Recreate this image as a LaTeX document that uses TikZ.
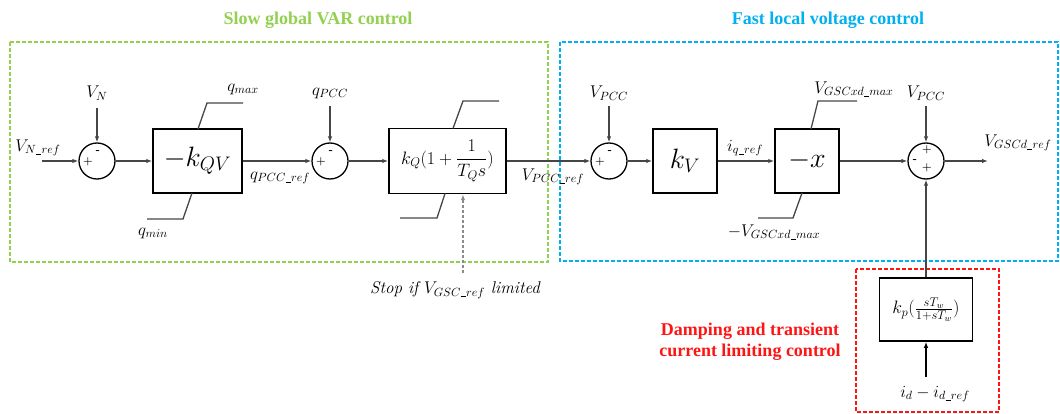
\RequirePackage{fix-cm}
\documentclass[tikz,border=0pt]{standalone}
\usepackage{fontspec}
\newfontfamily\titlefont{Liberation Serif}[BoldFont={Liberation Serif Bold}]
\newcommand{\us}{\kern0.3pt\rule[-1pt]{5pt}{0.7pt}\kern0.3pt}
\usetikzlibrary{arrows.meta,calc}
\definecolor{gr}{RGB}{146,208,80}
\definecolor{bl}{RGB}{0,176,240}
\definecolor{rd}{RGB}{255,20,20}
\definecolor{ln}{RGB}{70,70,70}
\definecolor{dg}{RGB}{140,140,140}
\begin{document}
\begin{tikzpicture}[x=1pt,y=-1pt,
  lbl/.style={font=\fontsize{17}{20}\selectfont, inner sep=0pt},
  big/.style={font=\fontsize{28}{30}\selectfont},
  sumnode/.style={circle,draw=black,line width=1.3pt,minimum size=36pt,inner sep=0pt},
  blk/.style={draw=black,line width=1.5pt,inner sep=0pt},
  sig/.style={font=\fontsize{11}{11}\selectfont\bfseries,inner sep=0pt},
  con/.style={draw=ln,line width=1.2pt,-{Latex[length=6pt,width=4.5pt]}},
  lim/.style={draw=ln,line width=1.3pt},
  ttl/.style={font=\titlefont\bfseries\fontsize{18}{21}\selectfont, inner sep=0pt},
  zone/.style={line width=1.3pt, dash pattern=on 4pt off 2pt}]
\useasboundingbox (0,0) rectangle (1060,414);

% zones
\draw[zone,draw=gr] (10,42) rectangle (548,262);
\draw[zone,draw=bl] (560,42) rectangle (1058,261);
\draw[zone,draw=rd] (856,269) rectangle (999,412);

% titles
\node[ttl,text=gr] (t1) at (318,20) {Slow global VAR control};
\node[ttl,text=bl] (t2) at (828,20) {Fast local voltage control};
\node[ttl,text=rd,align=center] (t3) at (750,342) {Damping and transient\\current limiting control};

% summing junctions
\node[sumnode] (s1) at (97,161) {};
\node[sumnode] (s2) at (330,161) {};
\node[sumnode] (s3) at (609,161) {};
\node[sumnode] (s4) at (926,161) {};
\foreach \s in {s1,s2,s3}{
  \node[sig] at ($(\s)+(-9,1)$) {+};
  \node[sig] at ($(\s)+(1,-9)$) {-};
}
\node[sig] (s4a) at ($(s4)+(1,-11)$) {+};
\node[sig] (s4b) at ($(s4)+(-11,0)$) {-};
\node[sig] (s4c) at ($(s4)+(1,7)$) {+};

% blocks
\node[blk,big,minimum width=89pt,minimum height=64pt] (b1) at (197.5,161) {$-k_{QV}$};
\node[blk,minimum width=117pt,minimum height=65pt,font=\fontsize{18}{20}\selectfont] (b2) at (447.5,161) {$k_Q(1+{\displaystyle\frac{1}{T_Q s}})$};
\node[blk,big,minimum width=64pt,minimum height=64pt] (b3) at (685,161) {$k_V$};
\node[blk,big,minimum width=64pt,minimum height=64pt] (b4) at (807,161) {$-x$};
\node[blk,minimum width=93pt,minimum height=63pt,font=\fontsize{18}{20}\selectfont] (b5) at (926,309.5) {$k_p(\frac{sT_w}{1+sT_w})$};

% limiters
\draw[lim] (198,129) -- (207,103) -- (243,103);
\draw[lim] (192,193) -- (183,219) -- (147,219);
\draw[lim] (453,128.5) -- (463,101) -- (499,101);
\draw[lim] (445,193.5) -- (437,218) -- (400,218);
\draw[lim] (811,129) -- (818,101) -- (857,101);
\draw[lim] (802,193) -- (793,218) -- (758,218);

% labels
\node[lbl] (lvnref) at (38,148) {$V_{N\us ref}$};
\node[lbl] (lvn) at (97,93) {$V_N$};
\node[lbl] (lqmax) at (243,89) {$q_{max}$};
\node[lbl] (lqmin) at (153,233) {$q_{min}$};
\node[lbl] (lqpccref) at (280,178) {$q_{PCC\us ref}$};
\node[lbl] (lqpcc) at (330,93) {$q_{PCC}$};
\node[lbl] (lvpccref) at (553,177) {$V_{PCC\us ref}$};
\node[lbl] (lvpcc1) at (609,93) {$V_{PCC}$};
\node[lbl] (liqref) at (745,148) {$i_{q\us ref}$};
\node[lbl] (lvmax) at (854,89) {$V_{GSCxd\us max}$};
\node[lbl] (lvmin) at (774,232) {$-V_{GSCxd\us max}$};
\node[lbl] (lvpcc2) at (926,93) {$V_{PCC}$};
\node[lbl] (lvgscd) at (1018,143) {$V_{GSCd\us ref}$};
\node[lbl] (lid) at (935,394) {$i_d-i_{d\us ref}$};
\node[lbl,font=\fontsize{17}{20}\selectfont\itshape] (lstop) at (455,290) {Stop if $V_{GSC\us ref}$ limited};

% input start points
\coordinate (in1) at (42,161);
\coordinate (vn) at (97,108);
\coordinate (qp) at (330,106);
\coordinate (vp1) at (609,106);
\coordinate (vp2) at (926,106);
\coordinate (out) at (988,161);
\coordinate (idin) at (926,377);
\coordinate (stp) at (463,273);

% connectors
\draw[con] (in1) -- (s1.west);
\draw[con] (vn) -- (s1.north);
\draw[con] (s1.east) -- (b1.west);
\draw[con] (b1.east) -- (s2.west);
\draw[con] (qp) -- (s2.north);
\draw[con] (s2.east) -- (b2.west);
\draw[con] (b2.east) -- (s3.west);
\draw[con] (vp1) -- (s3.north);
\draw[con] (s3.east) -- (b3.west);
\draw[con] (b3.east) -- (b4.west);
\draw[con] (b4.east) -- (s4.west);
\draw[con] (vp2) -- (s4.north);
\draw[con] (s4.east) -- (out);
\draw[con] (b5.north) -- (s4.south);
\draw[con,draw=black] (idin) -- (b5.south);
\draw[draw=dg,line width=1.3pt,dash pattern=on 3pt off 2pt,-{Latex[length=6pt,width=4.5pt]}] (stp) -- (stp |- b2.south);
\end{tikzpicture}
\end{document}
